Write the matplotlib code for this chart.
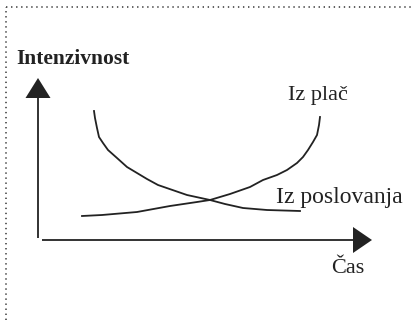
import numpy as np
import matplotlib
matplotlib.use("Agg")
import matplotlib.pyplot as plt
from matplotlib.lines import Line2D

# Podatki: čas in intenzivnost za obe krivulji (odčitano s slike)
cas_poslovanje = [56, 57, 59, 61, 65, 70, 79, 89, 99, 109, 120, 149, 172, 187, 205, 229, 262]
int_poslovanje = [129, 122, 112, 103, 97, 90, 82, 73, 67, 61, 55, 45, 40, 36, 32, 30, 29]

cas_place = [44, 64, 99, 132, 159, 172, 192, 212, 225, 239, 249, 259, 265, 270, 275, 279, 281, 282]
int_place = [24, 25, 28, 34, 38, 40, 46, 53, 60, 65, 70, 77, 83, 90, 98, 105, 115, 123]

labels = ["Intenzivnost", "Čas", "Iz plač", "Iz poslovanja"]

fig = plt.figure(figsize=(4.12, 3.20), dpi=100)
ax = fig.add_axes([0, 0, 1, 1])
ax.set_xlim(-38, 374)
ax.set_ylim(-80, 240)
ax.axis("off")

col = "#222222"

# osi s puščicama
ax.plot([0, 0], [2, 142], color=col, lw=1.3, solid_capstyle="butt")
ax.fill([-12.5, 12.5, 0], [142, 142, 162], color=col, lw=0)
ax.plot([4, 315], [0, 0], color=col, lw=1.3, solid_capstyle="butt")
ax.fill([315, 315, 334], [13, -13, 0], color=col, lw=0)

# krivulji
ax.plot(cas_poslovanje, int_poslovanje, color=col, lw=1.3, solid_joinstyle="round")
ax.plot(cas_place, int_place, color=col, lw=1.3, solid_joinstyle="round")

# napisi
ax.text(-22, 176, labels[0], fontsize=15.5, fontweight="bold", family="Liberation Serif", color=col, va="baseline")
ax.text(293, -33, labels[1], fontsize=16, family="Liberation Serif", color=col, va="baseline")
ax.text(250, 140, labels[2], fontsize=16, family="Liberation Serif", color=col, va="baseline")
ax.text(238, 37, labels[3], fontsize=17, family="Liberation Serif", color=col, va="baseline")

# pikčasti okvir
x0 = 6 / 412
y0 = 1 - 7 / 320
fig.add_artist(Line2D([x0, x0], [0, y0], transform=fig.transFigure, color="#333333", lw=1.1, linestyle=(0, (0.9, 2.4))))
fig.add_artist(Line2D([x0, 1], [y0, y0], transform=fig.transFigure, color="#333333", lw=1.1, linestyle=(0, (0.9, 2.4))))

fig.savefig("out.png", dpi=100)
